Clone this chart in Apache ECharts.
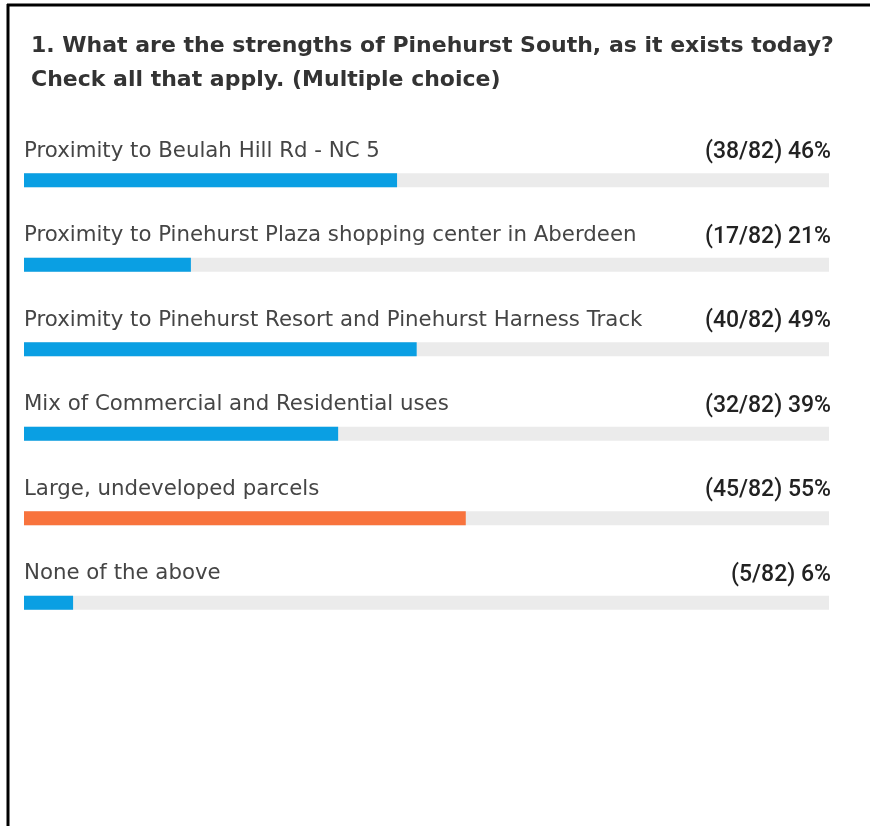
<!DOCTYPE html>
<html>
<head>
<meta charset="utf-8">
<script src="https://cdn.jsdelivr.net/npm/echarts@6/dist/echarts.min.js"></script>
<style>
html,body{margin:0;padding:0;background:#fff;}
#chart{width:870px;height:826px;}
</style>
</head>
<body>
<div id="chart"></div>
<script>
const titleLines = ["1. What are the strengths of Pinehurst South, as it exists today?", "Check all that apply. (Multiple choice)"];
const categories = [
  "Proximity to Beulah Hill Rd - NC 5",
  "Proximity to Pinehurst Plaza shopping center in Aberdeen",
  "Proximity to Pinehurst Resort and Pinehurst Harness Track",
  "Mix of Commercial and Residential uses",
  "Large, undeveloped parcels",
  "None of the above"
];
const counts = [38, 17, 40, 32, 45, 5];
const percents = [46, 21, 49, 39, 55, 6];
const total = 82;

const blue = "#0a9fe3";
const orange = "#f8733d";
const maxCount = Math.max(...counts);

const chart = echarts.init(document.getElementById('chart'));
chart.setOption({
  animation: false,
  backgroundColor: '#ffffff',
  title: {
    text: titleLines.join('\n'),
    left: 26,
    top: 24,
    textStyle: {
      fontFamily: 'DejaVu Sans',
      fontWeight: 'bold',
      fontSize: 22,
      color: '#333333',
      lineHeight: 34
    }
  },
  graphic: [
    { type: 'line', shape: { x1: 8, y1: 4, x2: 8, y2: 826 }, style: { stroke: '#000', lineWidth: 3 } },
    { type: 'line', shape: { x1: 7, y1: 5, x2: 870, y2: 5 }, style: { stroke: '#000', lineWidth: 3 } }
  ],
  grid: { left: 24, right: 41, top: 138, height: 507, containLabel: false },
  xAxis: { type: 'value', min: 0, max: total, show: false },
  yAxis: { type: 'category', data: categories, inverse: true, show: false },
  series: [
    {
      type: 'bar',
      data: categories.map(() => total),
      barWidth: 14,
      itemStyle: { color: '#ebebeb' },
      silent: true,
      z: 1,
      label: {
        show: true,
        position: [0, -22],
        verticalAlign: 'middle',
        align: 'left',
        formatter: (p) => categories[p.dataIndex],
        fontFamily: 'DejaVu Sans',
        fontSize: 21.3,
        color: '#454545'
      }
    },
    {
      type: 'bar',
      data: counts.map((v) => ({ value: v, itemStyle: { color: v === maxCount ? orange : blue } })),
      barWidth: 14,
      barGap: '-100%',
      z: 2,
      label: { show: false }
    },
    {
      type: 'bar',
      data: categories.map(() => total),
      barWidth: 14,
      barGap: '-100%',
      itemStyle: { color: 'rgba(0,0,0,0)' },
      z: 3,
      label: {
        show: true,
        position: ['100%', -21],
        offset: [2, 0],
        verticalAlign: 'middle',
        align: 'right',
        formatter: (p) => '(' + counts[p.dataIndex] + '/' + total + ') ' + percents[p.dataIndex] + '%',
        fontFamily: 'Roboto',
        fontWeight: 500,
        fontSize: 23,
        color: '#222222'
      }
    }
  ]
});
</script>
</body>
</html>
